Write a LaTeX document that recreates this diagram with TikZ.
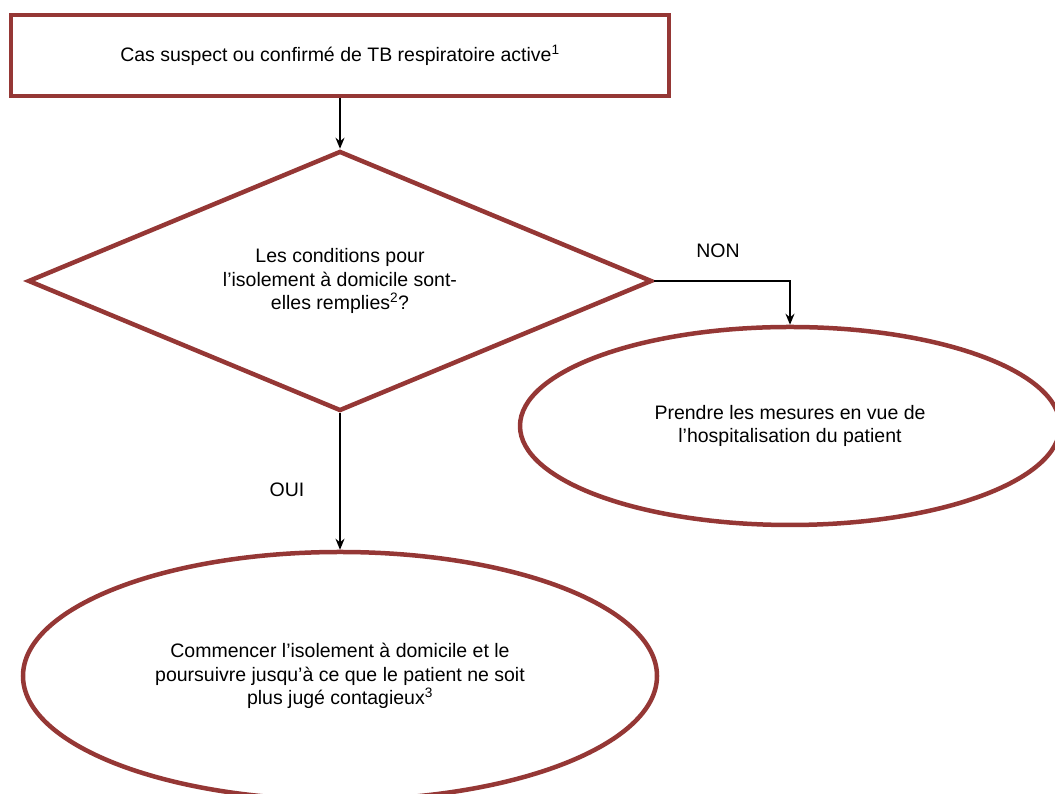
\documentclass[tikz,border=0pt]{standalone}
\usepackage{fontspec}
\setmainfont{Liberation Sans}
\usetikzlibrary{shapes.geometric,arrows.meta}
\definecolor{boxred}{HTML}{953735}
\tikzset{
  shapeline/.style={draw=boxred, line width=4.5pt, fill=white},
  txt/.style={font=\fontsize{19.5}{23.5}\selectfont, align=center},
  conn/.style={draw=black, line width=1.6pt, -{Stealth[length=11pt,width=9pt]}},
  lbl/.style={font=\fontsize{19.5}{22}\selectfont, inner sep=0pt}
}
\begin{document}
\begin{tikzpicture}[x=1pt,y=1pt]
\useasboundingbox (0,0) rectangle (1055,794);
\clip (0,0) rectangle (1055,794);
\node[shapeline, rectangle, minimum width=658pt, minimum height=81pt, inner sep=0pt, txt] (start) at (340,738.5) {Cas suspect ou confirmé de TB respiratoire active\textsuperscript{1}};
\node[shapeline, diamond, minimum width=624pt, minimum height=260pt, inner sep=0pt] (q) at (340,513) {};
\node[txt, inner sep=0pt] (qtext) at (q.center) {Les conditions pour\\l’isolement à domicile sont-\\elles remplies\textsuperscript{2}?};
\node[shapeline, ellipse, minimum width=540pt, minimum height=198pt, inner sep=0pt, txt] (hosp) at (790,368) {Prendre les mesures en vue de\\l’hospitalisation du patient};
\node[shapeline, ellipse, minimum width=634pt, minimum height=248pt, inner sep=0pt, txt] (home) at (340,118) {Commencer l’isolement à domicile et le\\poursuivre jusqu’à ce que le patient ne soit\\plus jugé contagieux\textsuperscript{3}};
\draw[conn] (start.south) -- (q.north);
\draw[conn] (q.east) -| (hosp.north);
\draw[conn] (q.south) -- (home.north);
\node[lbl] (non) at (718,543) {NON};
\node[lbl] (oui) at (287,304) {OUI};
\end{tikzpicture}
\end{document}
